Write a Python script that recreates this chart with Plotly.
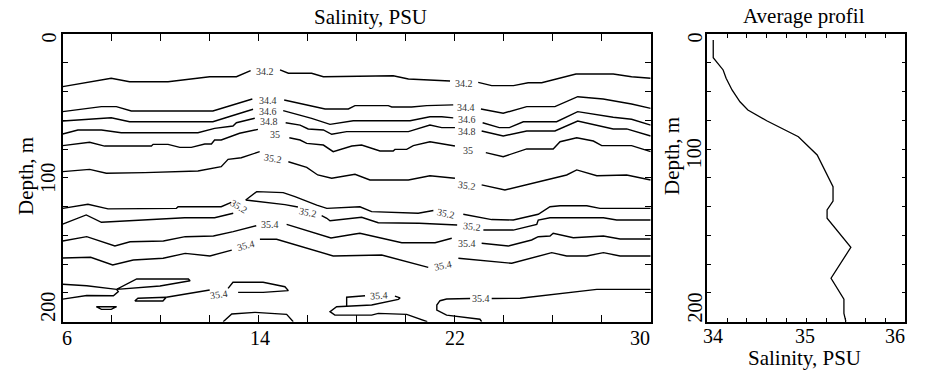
import plotly.graph_objects as go

# ---------------- Average profile (right panel) ----------------
profile_depth = [4.2, 16.5, 25.0, 30.8, 38.9, 47.1, 52.8, 60.3, 71.4, 84.1, 106.2, 116.1,
                 122.3, 128.1, 148.3, 169.8, 184.4, 194.2, 200.0]
profile_salinity = [34.06, 34.06, 34.16, 34.19, 34.25, 34.33, 34.41, 34.60, 34.92, 35.11, 35.27, 35.27,
                    35.21, 35.21, 35.45, 35.25, 35.38, 35.38, 35.40]

# ---------------- Isohalines of the section (left panel): x = station, d = depth (m) ----------------
# 34.2
iso342_a_x = [6.0, 7.98, 8.73, 10.30, 12.0, 13.09, 13.67]
iso342_a_d = [36.6, 30.8, 33.2, 33.2, 29.7, 29.7, 25.5]
iso342_b_x = [14.87, 15.21, 16.16, 16.64, 19.49, 20.11, 21.81]
iso342_b_d = [25.0, 27.3, 27.3, 29.7, 29.0, 31.3, 32.7]
iso342_c_x = [22.96, 23.51, 24.40, 25.0, 25.55, 26.30, 26.95, 28.47, 29.22, 30.0]
iso342_c_d = [33.6, 35.9, 35.9, 33.9, 33.9, 30.8, 27.8, 27.8, 29.7, 30.8]
# 34.4
iso344_a_x = [6.0, 7.58, 8.19, 8.80, 12.13, 13.74]
iso344_a_d = [54.0, 50.5, 50.5, 53.5, 53.5, 45.2]
iso344_b_x = [15.04, 16.71, 17.66, 17.93, 19.29, 19.43, 20.24, 20.86, 21.94]
iso344_b_d = [45.9, 52.1, 52.1, 49.8, 49.8, 50.7, 50.7, 49.8, 49.3]
iso344_c_x = [23.07, 23.98, 24.94, 26.09, 27.02, 28.06, 29.22, 30.0]
iso344_c_d = [52.1, 55.1, 50.5, 50.5, 43.6, 45.2, 48.7, 51.7]
# 34.6
iso346_a_x = [6.0, 7.98, 8.73, 12.13, 12.88, 13.77]
iso346_a_d = [60.5, 58.2, 61.0, 61.0, 57.0, 52.3]
iso346_b_x = [15.0, 16.16, 16.91, 17.86, 20.18, 20.99, 21.47, 21.94]
iso346_b_d = [53.3, 58.6, 62.8, 60.3, 60.3, 57.5, 57.5, 58.3]
iso346_c_x = [23.14, 23.82, 24.23, 24.80, 26.16, 27.02, 28.47, 29.22, 30.0]
iso346_c_d = [61.7, 65.1, 65.1, 61.0, 61.0, 54.0, 57.9, 59.3, 63.3]
# 34.8
iso348_a_x = [6.0, 6.62, 7.58, 8.39, 11.52, 12.07, 12.20, 12.95, 13.09, 13.84]
iso348_a_d = [69.5, 66.7, 66.7, 68.6, 68.6, 66.3, 65.6, 64.0, 61.7, 58.6]
iso348_b_x = [15.10, 15.69, 16.02, 16.64, 16.98, 17.59, 20.11, 20.99, 21.47, 22.01]
iso348_b_d = [61.7, 63.3, 66.0, 66.7, 69.7, 67.9, 67.9, 63.3, 65.1, 65.1]
iso348_c_x = [23.10, 23.98, 24.94, 26.09, 27.02, 28.47, 29.02, 30.0]
iso348_c_d = [67.4, 70.9, 67.4, 67.4, 60.5, 66.0, 66.0, 70.9]
# 35.0
iso350_a_x = [6.0, 7.10, 7.71, 9.62, 9.69, 10.30, 10.78, 11.25, 11.80, 12.07, 12.20, 12.47, 13.22, 13.97]
iso350_a_d = [77.6, 75.3, 77.9, 77.9, 76.7, 76.7, 78.8, 78.8, 76.5, 76.5, 73.7, 73.7, 69.0, 66.3]
iso350_b_x = [15.25, 15.69, 15.96, 16.64, 17.04, 17.80, 18.20, 18.95, 19.49, 19.56, 20.04, 20.31, 20.99, 22.01]
iso350_b_d = [72.1, 73.7, 76.0, 77.2, 81.8, 77.9, 77.2, 81.3, 81.3, 80.2, 80.2, 77.6, 74.9, 77.9]
iso350_c_x = [23.27, 23.98, 24.94, 26.02, 26.30, 26.98, 27.66, 28.00, 29.22, 30.0]
iso350_c_d = [82.5, 85.3, 79.9, 79.9, 74.9, 72.1, 74.4, 77.6, 77.6, 81.8]
# 35.2 (upper)
iso352_a_x = [6.0, 7.10, 7.78, 9.28, 9.35, 11.52, 12.47, 12.75, 13.29, 14.04]
iso352_a_d = [95.7, 94.1, 96.8, 96.8, 96.4, 95.2, 92.2, 87.1, 86.0, 81.8]
iso352_b_x = [15.21, 15.96, 16.41, 16.98, 17.93, 18.54, 20.11, 20.99, 22.01]
iso352_b_d = [88.8, 92.7, 98.0, 100.3, 97.5, 101.5, 101.5, 98.5, 100.3]
iso352_c_x = [23.10, 24.05, 26.57, 26.98, 27.80, 29.02, 30.0]
iso352_c_d = [104.9, 108.4, 98.0, 94.5, 98.5, 98.0, 101.5]
# 35.2 (low-salinity tongue, left)
iso352_d_x = [6.0, 7.03, 7.85, 10.64, 10.71, 12.47, 12.88]
iso352_d_d = [121.2, 118.4, 121.6, 121.2, 120.1, 120.1, 117.0]
iso352_e_x = [6.0, 6.96, 7.58, 10.98, 12.2, 12.96]
iso352_e_d = [132.1, 125.8, 130.9, 127.7, 127.7, 124.6]
# 35.2 (low-salinity tongue, right)
iso352_f_x = [13.47, 13.92, 15.0, 15.48, 16.37, 16.78, 18.13, 18.61, 20.51, 21.13]
iso352_f_d = [115.4, 109.6, 110.3, 113.1, 118.9, 121.2, 120.1, 123.5, 124.6, 122.7]
iso352_g_x = [22.35, 23.51, 24.39, 25.41, 25.89, 26.30, 27.39, 27.93, 30.0]
iso352_g_d = [125.3, 129.0, 129.3, 125.3, 120.1, 119.4, 119.4, 121.2, 121.2]
iso352_h_x = [13.47, 15.07, 15.6]
iso352_h_d = [115.4, 118.6, 120.3]
iso352_i_x = [16.57, 16.78, 16.91, 18.2, 18.88, 20.55, 22.1]
iso352_i_d = [126.3, 128.1, 129.8, 127.4, 131.2, 131.6, 132.8]
iso352_j_x = [23.17, 24.39, 25.35, 25.41, 25.89, 28.07, 28.61, 30.0]
iso352_j_d = [136.3, 136.3, 132.3, 129.3, 127.7, 127.7, 129.3, 129.3]
# 35.4 (upper of the salty core)
iso354_a_x = [6.0, 6.98, 8.13, 8.75, 10.11, 11.0, 12.15, 12.96, 13.9]
iso354_a_d = [143.9, 140.9, 147.4, 144.4, 143.9, 140.9, 140.4, 137.4, 133.3]
iso354_b_x = [15.14, 16.95, 17.93, 18.13, 19.84, 21.2, 21.88]
iso354_b_d = [132.3, 141.8, 139.0, 138.5, 145.1, 145.1, 142.0]
iso354_c_x = [23.1, 24.19, 25.14, 25.41, 25.89, 26.02, 26.84, 28.07, 28.75, 30.0]
iso354_c_d = [145.5, 147.4, 143.2, 140.9, 140.4, 138.5, 141.6, 140.4, 142.5, 142.5]
# 35.4 (lower of the salty core)
iso354_d_x = [6.0, 7.14, 8.04, 8.88, 10.1, 11.0, 12.01, 12.9]
iso354_d_d = [155.7, 155.2, 160.6, 157.1, 155.9, 152.5, 154.3, 150.2]
iso354_e_x = [14.05, 14.73, 17.04, 19.02, 20.92]
iso354_e_d = [142.7, 142.7, 154.3, 153.6, 162.2]
iso354_f_x = [22.15, 24.33, 25.96, 26.57, 27.39, 28.07, 28.75, 30.0]
iso354_f_d = [155.9, 159.4, 152.0, 154.3, 154.3, 152.0, 154.3, 154.3]
# 35.4 (deep patches)
iso354_g_x = [6.0, 6.98, 8.2, 9.02, 11.13, 11.2, 9.97, 8.2, 8.27, 8.07, 6.98, 6.0]
iso354_g_d = [174.0, 175.0, 177.5, 170.3, 170.3, 171.5, 175.2, 177.5, 179.1, 182.0, 181.8, 184.3]
iso354_h_x = [8.94, 9.07, 10.23, 10.09, 8.94]
iso354_h_d = [185.6, 183.7, 183.0, 185.6, 185.6]
iso354_i_x = [10.23, 12.0]
iso354_i_d = [183.0, 178.0]
iso354_j_x = [12.75, 12.95, 14.18, 15.07, 15.21, 14.18, 13.16]
iso354_j_d = [176.8, 172.6, 172.6, 175.7, 178.4, 179.6, 179.6]
iso354_k_x = [7.37, 8.2, 7.98, 7.58, 7.37]
iso354_k_d = [189.6, 189.6, 191.4, 191.4, 189.6]
iso354_l_x = [12.55, 12.9, 13.85, 15.14, 15.41]
iso354_l_d = [200.0, 194.6, 193.5, 194.9, 200.0]
iso354_m_x = [20.88, 20.04, 18.88, 18.61, 17.11, 16.91, 17.18, 17.66, 18.61, 19.70, 19.77, 19.56]
iso354_m_d = [200.0, 194.9, 194.2, 195.4, 195.4, 193.0, 189.6, 189.1, 188.4, 184.5, 183.5, 182.2]
iso354_n_x = [18.34, 17.59, 17.59]
iso354_n_d = [182.0, 183.0, 189.1]
iso354_o_x = [30.0, 27.80, 24.67, 23.51]
iso354_o_d = [177.5, 177.5, 183.7, 183.9]
iso354_p_x = [22.63, 21.67, 21.40, 21.27, 21.27, 21.67, 23.03, 23.1]
iso354_p_d = [183.9, 184.2, 185.4, 188.4, 191.9, 195.4, 198.3, 200.0]

isolines = [
    (iso342_a_x, iso342_a_d), (iso342_b_x, iso342_b_d), (iso342_c_x, iso342_c_d),
    (iso344_a_x, iso344_a_d), (iso344_b_x, iso344_b_d), (iso344_c_x, iso344_c_d),
    (iso346_a_x, iso346_a_d), (iso346_b_x, iso346_b_d), (iso346_c_x, iso346_c_d),
    (iso348_a_x, iso348_a_d), (iso348_b_x, iso348_b_d), (iso348_c_x, iso348_c_d),
    (iso350_a_x, iso350_a_d), (iso350_b_x, iso350_b_d), (iso350_c_x, iso350_c_d),
    (iso352_a_x, iso352_a_d), (iso352_b_x, iso352_b_d), (iso352_c_x, iso352_c_d),
    (iso352_d_x, iso352_d_d), (iso352_e_x, iso352_e_d), (iso352_f_x, iso352_f_d),
    (iso352_g_x, iso352_g_d), (iso352_h_x, iso352_h_d), (iso352_i_x, iso352_i_d),
    (iso352_j_x, iso352_j_d),
    (iso354_a_x, iso354_a_d), (iso354_b_x, iso354_b_d), (iso354_c_x, iso354_c_d),
    (iso354_d_x, iso354_d_d), (iso354_e_x, iso354_e_d), (iso354_f_x, iso354_f_d),
    (iso354_g_x, iso354_g_d), (iso354_h_x, iso354_h_d), (iso354_i_x, iso354_i_d),
    (iso354_j_x, iso354_j_d), (iso354_k_x, iso354_k_d), (iso354_l_x, iso354_l_d),
    (iso354_m_x, iso354_m_d), (iso354_n_x, iso354_n_d), (iso354_o_x, iso354_o_d),
    (iso354_p_x, iso354_p_d),
]

# contour labels
clabel_text = ["34.2", "34.2", "34.4", "34.4", "34.6", "34.6", "34.8", "34.8", "35", "35",
               "35.2", "35.2", "35.2", "35.2", "35.2", "35.2",
               "35.4", "35.4", "35.4", "35.4", "35.4", "35.4", "35.4"]
clabel_x = [14.27, 22.38, 14.38, 22.47, 14.38, 22.49, 14.41, 22.50, 14.65, 22.54,
            14.60, 22.49, 13.20, 16.02, 21.64, 22.69,
            14.46, 22.52, 13.47, 21.53, 12.37, 18.90, 23.07]
clabel_depth = [26.2, 34.5, 46.1, 51.4, 53.7, 59.6, 61.0, 67.6, 69.7, 81.2,
                86.7, 105.0, 120.0, 123.9, 124.6, 134.0,
                132.6, 145.3, 147.0, 160.9, 180.9, 181.6, 183.7]
clabel_angle = [0, 0, 0, 0, 0, 0, 0, 0, 0, 0,
                10, 8, 32, 12, 12, 6,
                0, 0, -15, -12, -8, -3, 0]

# axis tick labels
left_x_ticklabels = ["6", "14", "22", "30"]
left_x_tickvals = [6, 14, 22, 30]
right_x_ticklabels = ["34", "35", "36"]
right_x_tickvals = [34, 35, 36]
depth_ticklabels = ["0", "100", "200"]
depth_tickvals = [0, 100, 200]

FONT = "Liberation Serif"
W, H = 925, 371

def px(xp):
    return xp / W

def py(yp):
    return 1 - yp / H

fig = go.Figure()

for xs, ds in isolines:
    fig.add_trace(go.Scatter(x=xs, y=ds, mode="lines", xaxis="x", yaxis="y",
                             line=dict(color="black", width=1.4),
                             showlegend=False, hoverinfo="skip"))

fig.add_trace(go.Scatter(x=profile_salinity, y=profile_depth, mode="lines", xaxis="x2", yaxis="y2",
                         line=dict(color="black", width=1.3),
                         showlegend=False, hoverinfo="skip"))

annotations = []
for t, x, d, a in zip(clabel_text, clabel_x, clabel_depth, clabel_angle):
    annotations.append(dict(text=t, x=x, y=d, xref="x", yref="y", showarrow=False,
                            textangle=a, font=dict(family=FONT, size=10, color="#333333"),
                            xanchor="center", yanchor="middle", borderpad=0))

tick_font = dict(family=FONT, size=20, color="black")
title_font = dict(family=FONT, size=21, color="black")

# x tick labels (left)
for t, v, sh in zip(left_x_ticklabels, left_x_tickvals, [4.5, 1, 0, -10.5]):
    annotations.append(dict(text=t, x=v, xref="x", y=py(337.5), yref="paper", xshift=sh,
                            showarrow=False, font=tick_font, xanchor="center", yanchor="middle",
                            borderpad=0))
# x tick labels (right)
for t, v, sh in zip(right_x_ticklabels, right_x_tickvals, [6, -1, -10]):
    annotations.append(dict(text=t, x=v, xref="x2", y=py(335.5), yref="paper", xshift=sh,
                            showarrow=False, font=tick_font, xanchor="center", yanchor="middle",
                            borderpad=0))
# depth tick labels
for t, v, sh in zip(depth_ticklabels, depth_tickvals, [-3.5, 0, 15]):
    annotations.append(dict(text=t, x=px(48), xref="paper", y=v, yref="y", yshift=sh,
                            showarrow=False, font=tick_font, textangle=-90,
                            xanchor="center", yanchor="middle", borderpad=0))
for t, v, sh in zip(depth_ticklabels, depth_tickvals, [-3.5, 24.5, 14.2]):
    annotations.append(dict(text=t, x=px(694), xref="paper", y=v, yref="y2", yshift=sh,
                            showarrow=False, font=tick_font, textangle=-90,
                            xanchor="center", yanchor="middle", borderpad=0))

# titles
annotations += [
    dict(text="Salinity, PSU", x=px(370.5), y=py(17), xref="paper", yref="paper", showarrow=False,
         font=title_font, xanchor="center", yanchor="middle", borderpad=0),
    dict(text="Average profil", x=px(804), y=py(15.8), xref="paper", yref="paper", showarrow=False,
         font=title_font, xanchor="center", yanchor="middle", borderpad=0),
    dict(text="Depth, m", x=px(26), y=py(176), xref="paper", yref="paper", showarrow=False,
         font=title_font, textangle=-90, xanchor="center", yanchor="middle", borderpad=0),
    dict(text="Depth, m", x=px(672), y=py(156), xref="paper", yref="paper", showarrow=False,
         font=title_font, textangle=-90, xanchor="center", yanchor="middle", borderpad=0),
    dict(text="Salinity, PSU", x=px(804), y=py(358), xref="paper", yref="paper", showarrow=False,
         font=title_font, xanchor="center", yanchor="middle", borderpad=0),
]

axis_common = dict(showline=True, linecolor="black", linewidth=1.5, mirror="ticks",
                   ticks="inside", tickcolor="black", tickwidth=1.3,
                   showgrid=False, zeroline=False, showticklabels=False, fixedrange=True)

y_dom = [py(321.7), py(34)]
fig.update_layout(
    width=W, height=H,
    margin=dict(l=0, r=0, t=0, b=0),
    paper_bgcolor="white", plot_bgcolor="white",
    xaxis=dict(domain=[px(62.7), px(650.7)], range=[6, 30],
               tickvals=list(range(6, 31, 2)), ticklen=7, anchor="y", **axis_common),
    yaxis=dict(domain=y_dom, range=[200, 0],
               tickvals=list(range(0, 201, 20)), ticklen=6, anchor="x", **axis_common),
    xaxis2=dict(domain=[px(707.3), px(905.3)], range=[34, 36],
                tickvals=[34 + 0.2 * i for i in range(11)], ticklen=4, anchor="y2", **axis_common),
    yaxis2=dict(domain=y_dom, range=[200, 0],
                tickvals=list(range(0, 201, 20)), ticklen=4, anchor="x2", **axis_common),
    annotations=annotations,
    showlegend=False,
)

fig.write_html("out.html", config={"displayModeBar": False},
               post_script="document.body.style.margin='0px';")
